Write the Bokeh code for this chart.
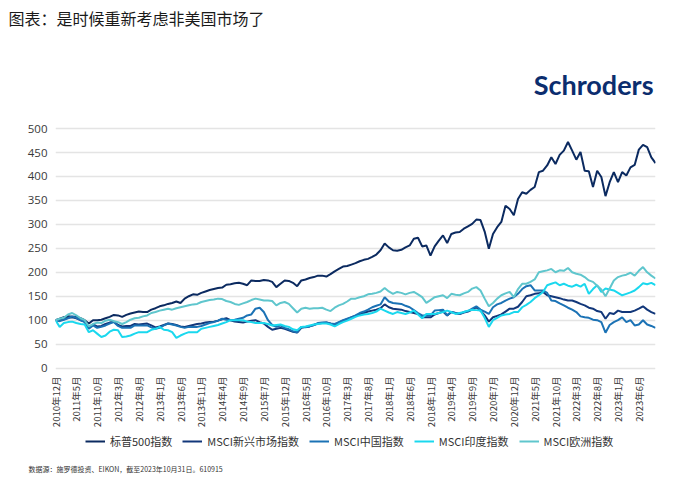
import numpy as np
from bokeh.plotting import figure
from bokeh.layouts import column
from bokeh.models import Range1d, FixedTicker, Legend, LegendItem, Label, Title
from bokeh.embed import file_html
from bokeh.resources import INLINE

# ---------------- data ----------------
tick_labels = ["2010年12月", "2011年5月", "2011年10月", "2012年3月", "2012年8月", "2013年1月",
               "2013年6月", "2013年11月", "2014年4月", "2014年9月", "2015年7月", "2015年12月",
               "2016年5月", "2016年10月", "2017年3月", "2017年8月", "2018年1月", "2018年6月",
               "2018年11月", "2019年4月", "2019年9月", "2020年7月", "2020年12月", "2021年5月",
               "2021年10月", "2022年3月", "2022年8月", "2023年1月", "2023年6月"]
tick_step = 5  # one label every five observations

sp500 = [100, 103, 106, 108, 107, 107, 104, 100, 93, 100,
         100, 101, 104, 107, 111, 110, 107, 111, 114, 116,
         118, 117, 117, 122, 125, 129, 131, 134, 136, 139,
         136, 145, 150, 154, 153, 157, 160, 163, 165, 167,
         168, 174, 175, 177, 178, 176, 173, 183, 182, 182,
         184, 183, 180, 169, 176, 183, 182, 178, 171, 183,
         185, 188, 190, 193, 193, 191, 196, 202, 207, 212,
         213, 216, 219, 223, 226, 228, 232, 237, 246, 260,
         252, 246, 245, 247, 252, 256, 270, 272, 254, 256,
         235, 254, 266, 277, 261, 280, 283, 284, 291, 296,
         301, 310, 309, 285, 249, 280, 294, 305, 339, 332,
         319, 353, 367, 364, 372, 378, 409, 412, 423, 440,
         426, 445, 454, 472, 454, 435, 451, 412, 411, 378,
         412, 399, 359, 388, 409, 388, 409, 402, 419, 424,
         456, 466, 461, 440, 428]

msci_em = [100, 99, 102, 105, 106, 104, 100, 97, 84, 91,
           87, 88, 92, 95, 97, 90, 87, 88, 88, 92,
           91, 92, 93, 89, 85, 87, 90, 93, 92, 90,
           87, 86, 88, 90, 92, 93, 95, 96, 97, 99,
           102, 104, 100, 97, 96, 95, 97, 99, 100, 96,
           93, 86, 80, 82, 84, 82, 79, 76, 74, 84,
           86, 87, 90, 93, 94, 95, 93, 89, 95, 99,
           102, 106, 109, 112, 115, 118, 120, 122, 125, 133,
           127, 124, 123, 122, 119, 117, 115, 113, 106, 106,
           106, 112, 115, 118, 110, 117, 115, 113, 116, 118,
           122, 127, 120, 110, 97, 106, 109, 112, 118, 124,
           124, 128, 138, 150, 152, 155, 156, 159, 152, 150,
           148, 146, 143, 141, 141, 138, 134, 131, 126, 124,
           119, 117, 103, 115, 113, 120, 117, 117, 117, 120,
           124, 129, 122, 117, 113]

msci_china = [100, 98, 101, 104, 108, 105, 100, 96, 82, 89,
              84, 86, 89, 93, 96, 88, 84, 84, 84, 89,
              89, 89, 89, 85, 82, 84, 89, 93, 91, 89,
              86, 84, 86, 86, 86, 88, 91, 94, 96, 99,
              103, 101, 100, 101, 103, 105, 110, 112, 124, 126,
              117, 100, 90, 86, 89, 84, 81, 77, 75, 86,
              85, 87, 90, 94, 95, 95, 93, 92, 96, 100,
              103, 106, 110, 115, 118, 122, 127, 130, 133, 148,
              139, 136, 135, 134, 130, 127, 121, 115, 110, 110,
              110, 120, 121, 122, 110, 117, 115, 113, 117, 119,
              124, 129, 122, 118, 113, 127, 133, 136, 141, 145,
              148, 155, 165, 171, 173, 162, 162, 162, 157, 141,
              140, 135, 131, 126, 122, 117, 108, 106, 105, 101,
              100, 96, 74, 90, 96, 100, 106, 96, 100, 89,
              91, 100, 91, 88, 84]

msci_india = [100, 86, 94, 96, 97, 94, 92, 91, 75, 79,
              72, 65, 68, 76, 80, 79, 65, 66, 68, 72,
              75, 75, 75, 80, 82, 86, 80, 79, 75, 63,
              68, 72, 75, 75, 75, 82, 84, 86, 88, 90,
              93, 96, 100, 100, 100, 100, 97, 96, 94, 94,
              94, 92, 89, 90, 91, 88, 86, 81, 79, 86,
              87, 89, 91, 92, 93, 93, 91, 87, 92, 96,
              99, 103, 107, 110, 112, 113, 115, 118, 124, 120,
              116, 113, 117, 115, 113, 116, 120, 112, 104, 113,
              113, 113, 115, 117, 120, 117, 113, 115, 117, 120,
              122, 121, 120, 105, 86, 100, 105, 110, 112, 113,
              117, 117, 127, 132, 138, 146, 152, 159, 173, 176,
              179, 173, 176, 172, 170, 174, 170, 176, 155, 165,
              173, 159, 166, 164, 162, 157, 152, 155, 158, 162,
              169, 177, 175, 178, 173]

msci_europe = [100, 103, 105, 112, 115, 110, 104, 100, 87, 92,
               95, 94, 99, 101, 98, 96, 92, 96, 101, 104,
               105, 108, 110, 115, 117, 120, 122, 124, 122, 125,
               127, 129, 131, 133, 134, 138, 140, 142, 143, 145,
               144, 140, 138, 134, 132, 135, 138, 142, 145, 143,
               141, 141, 140, 131, 136, 138, 134, 125, 116, 124,
               126, 124, 125, 125, 126, 122, 119, 126, 131, 134,
               139, 145, 145, 148, 150, 154, 155, 157, 160, 167,
               160, 155, 159, 157, 154, 157, 159, 154, 148, 136,
               142, 148, 150, 152, 146, 155, 153, 152, 156, 159,
               166, 169, 162, 145, 129, 136, 145, 152, 156, 159,
               148, 165, 176, 176, 180, 185, 200, 202, 204, 207,
               200, 204, 203, 209, 200, 197, 195, 190, 183, 180,
               172, 164, 150, 166, 183, 190, 193, 195, 199, 193,
               203, 211, 200, 193, 187]

series_names = ["标普500指数", "MSCI新兴市场指数", "MSCI中国指数", "MSCI印度指数", "MSCI欧洲指数"]
series_values = [sp500, msci_em, msci_china, msci_india, msci_europe]
series_colors = ["#0b2a60", "#12377a", "#1b72b5", "#1ad8ee", "#5fc6cd"]

y_ticks = list(range(0, 501, 50))

W = 690
TOP_H, MAIN_H, BOT_H = 30, 400, 58
BL, BR = 55, 35


def strip(h, top_border, bottom_border):
    f = figure(width=W, height=h, output_backend="svg", toolbar_location=None,
               x_axis_type=None, y_axis_type=None, x_range=Range1d(0, 1), y_range=Range1d(0, 1),
               min_border_left=BL, min_border_right=BR,
               min_border_top=top_border, min_border_bottom=bottom_border)
    f.outline_line_color = None
    f.background_fill_color = "white"
    f.border_fill_color = "white"
    return f


# ---------------- header ----------------
top = strip(TOP_H, 29, 0)
top.add_layout(Title(text="图表：是时候重新考虑非美国市场了", align="left", offset=-47,
                     text_font="Noto Sans CJK SC", text_font_size="16px", standoff=0,
                     text_font_style="normal", text_color="#1a1a1a"), "above")

# ---------------- main chart ----------------
n = len(sp500)
x = np.arange(n)

p = figure(width=W, height=MAIN_H, output_backend="svg", toolbar_location=None,
           x_range=Range1d(0, n - 1), y_range=Range1d(-5, 629.5),
           min_border_left=BL, min_border_right=BR, min_border_top=36, min_border_bottom=60)
p.outline_line_color = None
p.background_fill_color = "white"
p.border_fill_color = "white"

yt = FixedTicker(ticks=y_ticks)
p.yaxis.ticker = yt
p.ygrid.ticker = yt
p.yaxis.axis_line_color = None
p.yaxis.major_tick_line_color = None
p.yaxis.minor_tick_line_color = None
p.yaxis.major_tick_out = 0
p.yaxis.major_tick_in = 0
p.yaxis.minor_tick_out = 0
p.yaxis.major_label_text_font = "Open Sans"
p.yaxis.major_label_text_font_size = "11.5px"
p.yaxis.major_label_text_color = "#3a3a3a"
p.yaxis.major_label_standoff = 8
p.ygrid.grid_line_color = "#e4e4e4"
p.ygrid.grid_line_width = 1.5

xticks = [i * tick_step for i in range(len(tick_labels))]
p.xaxis.ticker = FixedTicker(ticks=xticks)
p.xaxis.major_label_overrides = {t: lbl for t, lbl in zip(xticks, tick_labels)}
p.xaxis.major_label_orientation = np.pi / 2
p.xaxis.axis_line_color = None
p.xaxis.major_tick_line_color = None
p.xaxis.minor_tick_line_color = None
p.xaxis.major_tick_out = 0
p.xaxis.major_tick_in = 0
p.xaxis.minor_tick_out = 0
p.xaxis.major_label_text_font = "Noto Sans CJK SC"
p.xaxis.major_label_text_font_size = "9.5px"
p.xaxis.major_label_text_color = "#3a3a3a"
p.xaxis.major_label_standoff = 6
p.xgrid.visible = False

for vals, col in zip(series_values, series_colors):
    p.line(x, vals, line_color=col, line_width=2)

p.add_layout(Label(x=598, y=286, x_units="screen", y_units="screen", text="Schroders",
                   text_font="Lato", text_font_style="bold", text_font_size="27px",
                   text_align="right", text_baseline="alphabetic", text_color="#0b2d6e"))

# ---------------- footer: legend + source ----------------
bot = strip(BOT_H, 0, 30)
items = []
for name, col in zip(series_names, series_colors):
    # legend swatch only: a single missing point, nothing is drawn in the frame
    r = bot.line(x=np.array([np.nan]), y=np.array([np.nan]), line_color=col, line_width=2)
    items.append(LegendItem(label=name, renderers=[r]))
legend = Legend(items=items, orientation="horizontal", location=(30, 9),
                label_text_font="Noto Sans CJK SC", label_text_font_size="11px",
                label_text_color="#333333", glyph_width=20, glyph_height=12,
                label_standoff=5, spacing=10, padding=0, margin=0,
                border_line_color=None, background_fill_alpha=0)
bot.add_layout(legend)
bot.add_layout(Title(text="数据源：施罗德投资、EIKON，截至2023年10月31日。610915",
                     align="left", offset=-27, text_font="Noto Sans CJK SC",
                     text_font_size="7px", text_font_style="normal",
                     text_color="#333333", standoff=6), "below")

layout = column(top, p, bot, spacing=0)
open("out.html", "w").write(file_html(layout, INLINE))
